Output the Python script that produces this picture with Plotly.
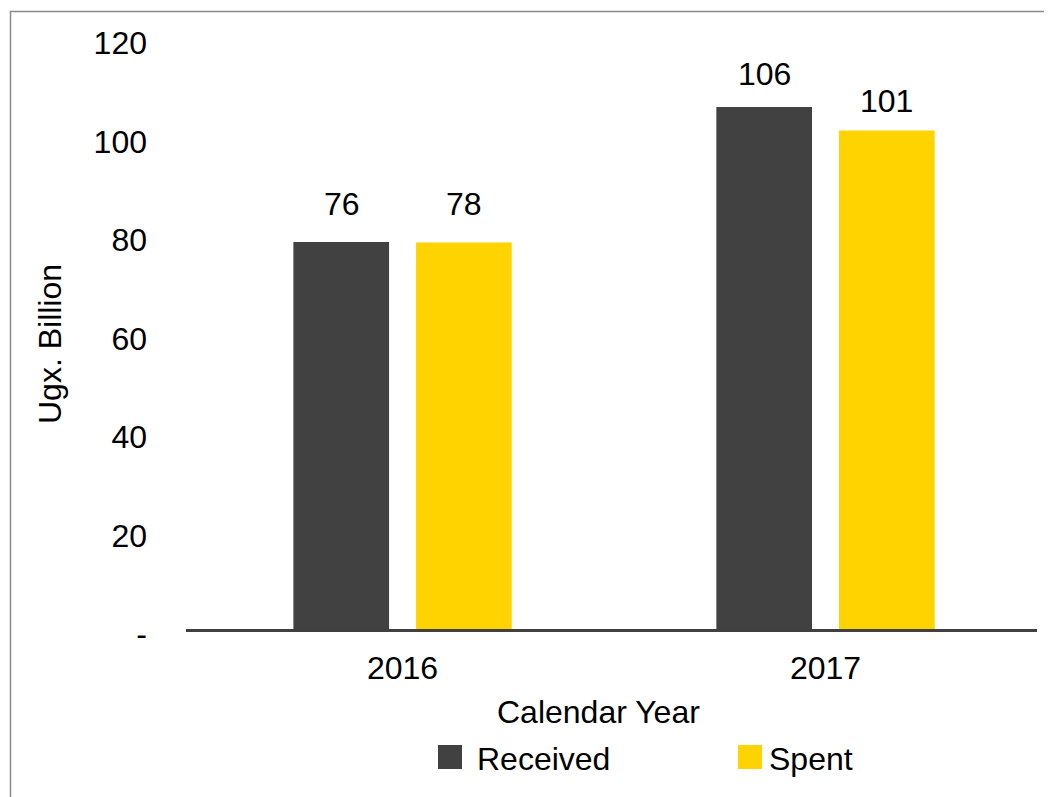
import plotly.graph_objects as go

# ---- data ----
years = ["2016", "2017"]
received = [78.6, 106.0]          # drawn bar heights
spent = [78.5, 101.2]
received_labels = ["76", "106"]   # printed data labels
spent_labels = ["78", "101"]
ytick_vals = [0, 20, 40, 60, 80, 100, 120]
ytick_text = ["-", "20", "40", "60", "80", "100", "120"]

DARK = "#414142"
YELLOW = "#FFD300"
FONT = "Arial, Liberation Sans, sans-serif"
FS = 32

OFF = 8  # page body margin
W, H = 1052, 797
# target screen coordinates of plot area
SX0, SX1, SY0, SY1 = 186, 1037, 38, 629
L = SX0 - OFF
R = W - (SX1 - OFF)
T = SY0 - OFF
B = H - (SY1 - OFF)
PW, PH = W - L - R, H - T - B

def px(x):
    return (x - SX0) / PW

def py(y):
    return (SY1 - y) / PH

fig = go.Figure()
fig.add_trace(go.Bar(x=years, y=received, name="Received", marker_color=DARK,
                     marker_line_width=0, showlegend=False))
fig.add_trace(go.Bar(x=years, y=spent, name="Spent", marker_color=YELLOW,
                     marker_line_width=0, showlegend=False))

label_pad_received = [18, 13]
label_pad_spent = [18, 10]
annotations = []
for i, yr in enumerate(years):
    annotations.append(dict(x=i, y=received[i], text=received_labels[i], xref="x", yref="y",
                            showarrow=False, yanchor="bottom", xshift=-61,
                            yshift=label_pad_received[i],
                            font=dict(size=FS, color="black", family=FONT)))
    annotations.append(dict(x=i, y=spent[i], text=spent_labels[i], xref="x", yref="y",
                            showarrow=False, yanchor="bottom", xshift=61,
                            yshift=label_pad_spent[i],
                            font=dict(size=FS, color="black", family=FONT)))

# axis titles
annotations.append(dict(x=px(598), y=py(712), xref="paper", yref="paper", text="Calendar Year",
                        showarrow=False, xanchor="center", yanchor="middle",
                        font=dict(size=FS, color="black", family=FONT)))
annotations.append(dict(x=px(50), y=py(344), xref="paper", yref="paper", text="Ugx. Billion",
                        showarrow=False, textangle=-90, xanchor="center", yanchor="middle",
                        font=dict(size=FS, color="black", family=FONT)))
# legend text
annotations.append(dict(x=px(475), y=py(759), xref="paper", yref="paper", text="Received",
                        showarrow=False, xanchor="left", yanchor="middle",
                        font=dict(size=FS, color="black", family=FONT)))
annotations.append(dict(x=px(767), y=py(759), xref="paper", yref="paper", text="Spent",
                        showarrow=False, xanchor="left", yanchor="middle",
                        font=dict(size=FS, color="black", family=FONT)))

shapes = [
    # legend swatches
    dict(type="rect", xref="paper", yref="paper", x0=px(438), x1=px(462), y0=py(769), y1=py(745),
         fillcolor=DARK, line_width=0),
    dict(type="rect", xref="paper", yref="paper", x0=px(738), x1=px(762), y0=py(769), y1=py(745),
         fillcolor=YELLOW, line_width=0),
    # outer frame
    dict(type="rect", xref="paper", yref="paper", x0=px(10.5), x1=px(1070), y0=py(830), y1=py(11.5),
         fillcolor="rgba(0,0,0,0)", line=dict(color="#8a8a8a", width=1.5), layer="below"),
]

fig.update_layout(
    width=W, height=H,
    margin=dict(l=L, r=R, t=T, b=B, autoexpand=False),
    paper_bgcolor="white", plot_bgcolor="white",
    barmode="group", bargap=0.42, bargroupgap=0.22,
    font=dict(family=FONT, size=FS, color="black"),
    annotations=annotations, shapes=shapes,
    xaxis=dict(type="category", range=[-0.512, 1.5], showline=True, linecolor="#404040",
               linewidth=3, showgrid=False, automargin=False,
               ticks="", tickfont=dict(size=FS, family=FONT, color="black"),
               ticklabelstandoff=9, zeroline=False),
    yaxis=dict(range=[0, 120], tickvals=ytick_vals, ticktext=ytick_text, showgrid=False,
               showline=False, zeroline=False, ticks="", ticklabelstandoff=38,
               ticklabelshift=5, automargin=False,
               tickfont=dict(size=FS, family=FONT, color="black")),
)

fig.write_html("out.html")
